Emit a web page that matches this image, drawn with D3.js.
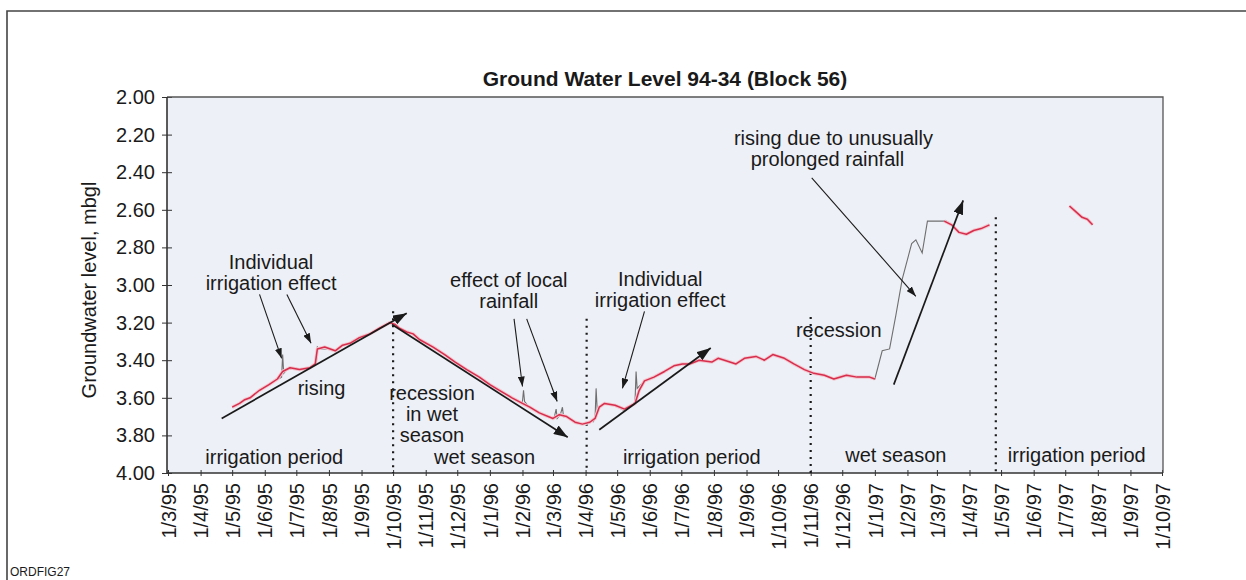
<!DOCTYPE html>
<html>
<head>
<meta charset="utf-8">
<script src="https://cdn.jsdelivr.net/npm/d3@7"></script>
<style>
  body { margin: 0; background: #fff; }
  svg text { font-family: "Liberation Sans", Arial, sans-serif; fill: #1a1a1a; }
</style>
</head>
<body>
<div class="container"></div>
<script>
const WIDTH = 1246,
      HEIGHT = 580,
      PLOT_LEFT = 167,
      PLOT_RIGHT = 1163,
      PLOT_TOP = 97,
      PLOT_BOTTOM = 473;

// month ticks along the bottom
const xTickLabels = ['1/3/95','1/4/95','1/5/95','1/6/95','1/7/95','1/8/95','1/9/95','1/10/95','1/11/95','1/12/95',
  '1/1/96','1/2/96','1/3/96','1/4/96','1/5/96','1/6/96','1/7/96','1/8/96','1/9/96','1/10/96','1/11/96','1/12/96',
  '1/1/97','1/2/97','1/3/97','1/4/97','1/5/97','1/6/97','1/7/97','1/8/97','1/9/97','1/10/97'];
const yTicks = [2.0, 2.2, 2.4, 2.6, 2.8, 3.0, 3.2, 3.4, 3.6, 3.8, 4.0];

// logged level (red), null = no record
const redDates = ['1995-05-01','1995-05-08','1995-05-13','1995-05-18','1995-05-27','1995-06-05','1995-06-13','1995-06-18',
  '1995-06-25','1995-07-04','1995-07-14','1995-07-19','1995-07-21','1995-07-28','1995-08-07','1995-08-14','1995-08-21',
  '1995-08-30','1995-09-09','1995-09-18','1995-09-28','1995-10-03','1995-10-07','1995-10-14','1995-10-20','1995-10-26',
  '1995-11-08','1995-11-19','1995-11-29','1995-12-10','1995-12-22','1996-01-01','1996-01-10','1996-01-22','1996-02-01',
  '1996-02-08','1996-02-17','1996-03-01','1996-03-07','1996-03-14','1996-03-22','1996-03-29','1996-04-05','1996-04-10',
  '1996-04-14','1996-04-19','1996-04-29','1996-05-08','1996-05-18','1996-05-22','1996-05-27','1996-06-05','1996-06-15',
  '1996-06-24','1996-07-02','1996-07-09','1996-07-18','1996-07-30','1996-08-05','1996-08-11','1996-08-22','1996-08-30',
  '1996-09-10','1996-09-18','1996-09-26','1996-10-07','1996-10-16','1996-10-26','1996-11-04','1996-11-14','1996-11-23',
  '1996-12-05','1996-12-15','1996-12-27','1997-01-01','1997-02-01','1997-03-08','1997-03-15','1997-03-22','1997-03-29',
  '1997-04-05','1997-04-12','1997-04-20','1997-06-01','1997-07-05','1997-07-11','1997-07-17','1997-07-22','1997-07-27'];
const redLevels = [3.65, 3.63, 3.61, 3.60, 3.56, 3.53, 3.50, 3.46,
  3.44, 3.45, 3.44, 3.42, 3.34, 3.33, 3.35, 3.32, 3.31,
  3.28, 3.26, 3.23, 3.20, 3.21, 3.23, 3.25, 3.26, 3.29,
  3.33, 3.37, 3.41, 3.45, 3.49, 3.53, 3.56, 3.60, 3.63,
  3.65, 3.68, 3.71, 3.69, 3.70, 3.73, 3.74, 3.73, 3.71,
  3.65, 3.63, 3.64, 3.66, 3.63, 3.56, 3.51, 3.49, 3.46,
  3.43, 3.42, 3.42, 3.40, 3.41, 3.39, 3.40, 3.42, 3.39,
  3.38, 3.40, 3.37, 3.39, 3.42, 3.45, 3.47, 3.48, 3.50,
  3.48, 3.49, 3.49, 3.50, null, 2.66, 2.68, 2.72, 2.73,
  2.71, 2.70, 2.68, null, 2.58, 2.61, 2.64, 2.65, 2.68];

// raw readings (grey) where they leave the logged trace
const greyDates = ['1995-06-14','1995-06-17','1995-06-18','1995-06-19','1995-06-22','1995-07-01',
  '1995-07-17','1995-07-20','1995-07-21','1995-07-23','1995-07-30',
  '1996-01-29','1996-02-01','1996-02-02','1996-02-03','1996-02-06',
  '1996-03-02','1996-03-04','1996-03-05','1996-03-08','1996-03-10','1996-03-11','1996-03-14',
  '1996-04-08','1996-04-10','1996-04-11','1996-04-12','1996-04-19','1996-04-29','1996-05-08','1996-05-15',
  '1996-05-18','1996-05-19','1996-05-20','1996-05-27',
  '1996-12-27','1997-01-01','1997-01-08','1997-01-15','1997-01-21','1997-01-27','1997-02-05','1997-02-09',
  '1997-02-15','1997-02-20','1997-03-10','1997-03-15'];
const greyLevels = [3.50, 3.49, 3.37, 3.47, 3.45, 3.44,
  3.43, 3.42, 3.33, 3.34, 3.34,
  3.62, 3.62, 3.56, 3.62, 3.64,
  3.71, 3.66, 3.71, 3.69, 3.65, 3.70, 3.70,
  3.73, 3.71, 3.55, 3.66, 3.63, 3.64, 3.67, 3.64,
  3.62, 3.46, 3.55, 3.51,
  3.49, 3.50, 3.35, 3.34, 3.16, 2.97, 2.78, 2.76,
  2.83, 2.66, 2.66, 2.68];
const greyBreaks = ['1995-07-01', '1995-07-30', '1996-02-06', '1996-03-14', '1996-05-27'];

// season boundaries: date and top of the dotted line
const seasonBreakDates = ['1995-10-01', '1996-04-02', '1996-11-01', '1997-04-26'];
const seasonBreakTops = [3.14, 3.18, 3.17, 2.64];

// trend arrows and pointer arrows [fromDate, fromLevel, toDate, toLevel]
const trendArrows = [
  ['1995-04-21', 3.71, '1995-10-14', 3.15],
  ['1995-09-30', 3.21, '1996-03-15', 3.81],
  ['1996-04-14', 3.77, '1996-07-29', 3.335],
  ['1997-01-19', 3.53, '1997-03-26', 2.55]
];
const pointerArrows = [
  ['1995-05-27', 3.05, '1995-06-17', 3.39],
  ['1995-06-22', 3.05, '1995-07-15', 3.31],
  ['1996-01-24', 3.18, '1996-02-01', 3.54],
  ['1996-02-05', 3.18, '1996-03-05', 3.62],
  ['1996-05-27', 3.14, '1996-05-06', 3.55],
  ['1996-11-02', 2.43, '1997-02-09', 3.06]
];

// annotation text: lines, date, level of first baseline, anchor
const notes = [
  [['Individual', 'irrigation effect'], '1995-06-07', 2.915, 'middle'],
  [['rising'], '1995-07-25', 3.585, 'middle'],
  [['irrigation period'], '1995-06-10', 3.95, 'middle'],
  [['recession', 'in wet', 'season'], '1995-11-07', 3.61, 'middle'],
  [['wet season'], '1995-12-27', 3.95, 'middle'],
  [['effect of local', 'rainfall'], '1996-01-19', 3.01, 'middle'],
  [['Individual', 'irrigation effect'], '1996-06-11', 3.005, 'middle'],
  [['irrigation period'], '1996-07-11', 3.95, 'middle'],
  [['recession'], '1996-10-18', 3.277, 'start'],
  [['rising due to unusually'], '1996-08-20', 2.255, 'start'],
  [['prolonged rainfall'], '1996-09-05', 2.367, 'start'],
  [['wet season'], '1997-01-21', 3.94, 'middle'],
  [['irrigation period'], '1997-07-12', 3.94, 'middle']
];

const parseDate = d3.timeParse('%Y-%m-%d'),
      parseTick = d3.timeParse('%d/%m/%y');

var x = d3.scaleTime().domain([parseTick('1/3/95'), parseTick('1/10/97')]).range([PLOT_LEFT + 1, PLOT_RIGHT - 1]);
var y = d3.scaleLinear().domain([2, 4]).range([PLOT_TOP, PLOT_BOTTOM]);

var svg = d3.select('.container').append('svg').attr('width', WIDTH).attr('height', HEIGHT);

// outer frame
svg.append('path').attr('d', 'M7,' + HEIGHT + 'V11H' + WIDTH).attr('fill', 'none').attr('stroke', '#444').attr('stroke-width', 1.6);

svg.append('text').attr('x', 10).attr('y', 576).style('font-size', '12px').text('ORDFIG27');

svg.append('text')
  .attr('x', 665).attr('y', 86)
  .attr('text-anchor', 'middle')
  .style('font-size', '21px').style('font-weight', 'bold')
  .text('Ground Water Level 94-34 (Block 56)');

svg.append('rect')
  .attr('x', PLOT_LEFT).attr('y', PLOT_TOP)
  .attr('width', PLOT_RIGHT - PLOT_LEFT).attr('height', PLOT_BOTTOM - PLOT_TOP)
  .attr('fill', '#edf0f6');

var defs = svg.append('defs');
function marker(id, len, wid) {
  defs.append('marker').attr('id', id)
    .attr('viewBox', '0 0 10 10').attr('refX', 10).attr('refY', 5)
    .attr('markerUnits', 'userSpaceOnUse')
    .attr('markerWidth', len).attr('markerHeight', wid)
    .attr('orient', 'auto').attr('preserveAspectRatio', 'none')
    .append('path').attr('d', 'M0,0L10,5L0,10z').attr('fill', '#1a1a1a');
}
marker('bighead', 14, 10);
marker('smallhead', 10, 7);

// y axis
var yAxis = svg.append('g').attr('transform', 'translate(' + PLOT_LEFT + ',0)')
  .call(d3.axisLeft(y).tickValues(yTicks).tickFormat(d3.format('.2f')).tickSize(5).tickPadding(7));
yAxis.select('.domain').remove();
yAxis.selectAll('.tick line').attr('x1', 5).attr('stroke', '#333');
yAxis.selectAll('.tick text').style('font-size', '20px').attr('fill', '#1a1a1a');

// x axis
var xAxis = svg.append('g').attr('transform', 'translate(0,' + PLOT_BOTTOM + ')')
  .call(d3.axisBottom(x).tickValues(xTickLabels.map(parseTick)).tickFormat(function(d, i) { return xTickLabels[i]; }).tickSize(3));
xAxis.select('.domain').remove();
xAxis.selectAll('.tick line').attr('y1', -3).attr('stroke', '#333');
xAxis.selectAll('.tick text')
  .style('font-size', '20px').attr('fill', '#1a1a1a')
  .attr('transform', 'rotate(-90)')
  .attr('text-anchor', 'end')
  .attr('x', -10).attr('y', 0).attr('dy', '0.36em');

// plot border
svg.append('path').attr('d', 'M' + PLOT_LEFT + ',' + PLOT_TOP + 'H' + PLOT_RIGHT + 'V' + PLOT_BOTTOM)
  .attr('fill', 'none').attr('stroke', '#555').attr('stroke-width', 1.3);
svg.append('path').attr('d', 'M' + PLOT_LEFT + ',' + PLOT_TOP + 'V' + PLOT_BOTTOM + 'H' + PLOT_RIGHT)
  .attr('fill', 'none').attr('stroke', '#333').attr('stroke-width', 1.6);

svg.append('text')
  .attr('transform', 'translate(96,290) rotate(-90)')
  .attr('text-anchor', 'middle')
  .style('font-size', '20px')
  .text('Groundwater level, mbgl');

// season boundaries
svg.selectAll('.season').data(seasonBreakDates).enter().append('line')
  .attr('x1', function(d) { return x(parseDate(d)); })
  .attr('x2', function(d) { return x(parseDate(d)); })
  .attr('y1', function(d, i) { return y(seasonBreakTops[i]); })
  .attr('y2', PLOT_BOTTOM)
  .attr('stroke', '#1a1a1a').attr('stroke-width', 2.2).attr('stroke-dasharray', '2,5');

// series
var greyData = greyDates.map(function(d, i) { return { date: parseDate(d), level: greyLevels[i] }; });
var redData = redDates.map(function(d, i) { return { date: parseDate(d), level: redLevels[i] }; });

var line = d3.line()
  .defined(function(d) { return d.level != null; })
  .x(function(d) { return x(d.date); })
  .y(function(d) { return y(d.level); });

// split grey into runs after each break date
var runs = [[]];
greyData.forEach(function(d) {
  runs[runs.length - 1].push(d);
  if (greyBreaks.indexOf(d3.timeFormat('%Y-%m-%d')(d.date)) >= 0) runs.push([]);
});
svg.selectAll('.grey').data(runs).enter().append('path')
  .attr('d', line).attr('fill', 'none').attr('stroke', '#6e6e6e').attr('stroke-width', 1.1);

svg.append('path').datum(redData)
  .attr('d', line).attr('fill', 'none')
  .attr('stroke', '#f3c6cf').attr('stroke-width', 3.4).attr('stroke-linejoin', 'round');
svg.append('path').datum(redData)
  .attr('d', line).attr('fill', 'none')
  .attr('stroke', '#d62e4c').attr('stroke-width', 1.5).attr('stroke-linejoin', 'round');

// arrows
function arrows(list, width, head) {
  svg.selectAll(null).data(list).enter().append('line')
    .attr('x1', function(d) { return x(parseDate(d[0])); })
    .attr('y1', function(d) { return y(d[1]); })
    .attr('x2', function(d) { return x(parseDate(d[2])); })
    .attr('y2', function(d) { return y(d[3]); })
    .attr('stroke', '#1a1a1a').attr('stroke-width', width)
    .attr('marker-end', 'url(#' + head + ')');
}
arrows(trendArrows, 1.7, 'bighead');
arrows(pointerArrows, 1.1, 'smallhead');

// notes
notes.forEach(function(n) {
  var t = svg.append('text')
    .attr('x', x(parseDate(n[1]))).attr('y', y(n[2]))
    .attr('text-anchor', n[3])
    .style('font-size', '20px');
  n[0].forEach(function(s, i) {
    t.append('tspan').attr('x', x(parseDate(n[1]))).attr('dy', i ? '1.07em' : 0).text(s);
  });
});
</script>
</body>
</html>
